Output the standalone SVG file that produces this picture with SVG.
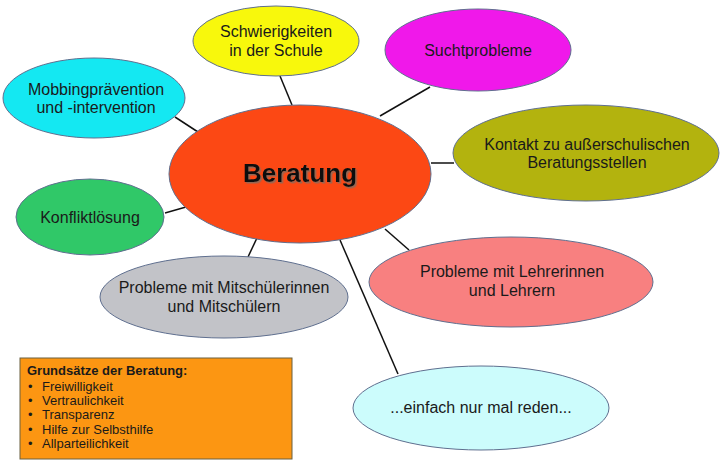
<svg xmlns="http://www.w3.org/2000/svg" width="723" height="466" viewBox="0 0 723 466">
<defs>
<filter id="sh" x="-10%" y="-20%" width="120%" height="150%"><feDropShadow dx="1.5" dy="1.5" stdDeviation="0.6" flood-color="#8a6a5a" flood-opacity="0.9"/></filter>
</defs>
<style>
.n{stroke:#5f6f8f;stroke-width:1}
.t{font-family:"Liberation Sans",Arial,sans-serif;font-size:16px;fill:#1a1a1a;text-anchor:middle}
.c line{stroke:#111;stroke-width:1.5}
.b{font-family:"Liberation Sans",Arial,sans-serif;font-size:13px;fill:#1a1a1a}
</style>
<rect width="723" height="466" fill="#fff"/>
<g class="c" id="connectors">
<line x1="280" y1="76" x2="292" y2="105"/>
<line x1="175" y1="117" x2="198" y2="132"/>
<line x1="430" y1="87" x2="380" y2="116"/>
<line x1="431" y1="163" x2="454" y2="163"/>
<line x1="165" y1="213" x2="186" y2="207"/>
<line x1="257" y1="238" x2="248" y2="257"/>
<line x1="385" y1="229" x2="409" y2="250"/>
<line x1="340" y1="240" x2="398" y2="374"/>
</g>
<g id="schule"><ellipse class="n" cx="276" cy="41" rx="83" ry="35" fill="#f8f80c"/><text class="t" x="276" y="37">Schwierigkeiten</text><text class="t" x="276" y="56">in der Schule</text></g>
<g id="mobbing"><ellipse class="n" cx="94" cy="98" rx="91" ry="40" fill="#14e8f2"/><text class="t" x="96" y="95">Mobbingprävention</text><text class="t" x="96" y="113">und -intervention</text></g>
<g id="sucht"><ellipse class="n" cx="478" cy="50" rx="93" ry="41" fill="#f018ea"/><text class="t" x="478" y="56">Suchtprobleme</text></g>
<g id="kontakt"><ellipse class="n" cx="586" cy="153" rx="133" ry="48" fill="#b3b30e"/><text class="t" x="587" y="150">Kontakt zu außerschulischen</text><text class="t" x="587" y="168">Beratungsstellen</text></g>
<g id="konflikt"><ellipse class="n" cx="90" cy="217" rx="74" ry="38" fill="#30c868"/><text class="t" x="90" y="223">Konfliktlösung</text></g>
<g id="mitschueler"><ellipse class="n" cx="224" cy="297" rx="124" ry="41" fill="#c2c3c8"/><text class="t" x="224" y="293">Probleme mit Mitschülerinnen</text><text class="t" x="224" y="312">und Mitschülern</text></g>
<g id="lehrer"><ellipse class="n" cx="511" cy="282" rx="142" ry="45" fill="#f88080"/><text class="t" x="512" y="277">Probleme mit Lehrerinnen</text><text class="t" x="512" y="296">und Lehrern</text></g>
<g id="reden"><ellipse class="n" cx="481" cy="408" rx="128" ry="42" fill="#ccfcfc"/><text class="t" x="481" y="413">...einfach nur mal reden...</text></g>
<g id="beratung"><ellipse class="n" cx="300" cy="174" rx="131" ry="69" fill="#fc4814"/>
<text x="300" y="182" filter="url(#sh)" style="font-family:'Liberation Sans',Arial,sans-serif;font-size:26px;font-weight:bold;fill:#111;text-anchor:middle">Beratung</text></g>
<g id="grundsaetze"><rect x="20" y="358" width="272" height="101" fill="#fc9612" stroke="#6a6040" stroke-width="1"/>
<text class="b" x="27" y="375" font-weight="bold">Grundsätze der Beratung:</text>
<text class="b"><tspan x="28" y="390.5">•</tspan><tspan x="42" y="390.5">Freiwilligkeit</tspan><tspan x="28" y="405">•</tspan><tspan x="42" y="405">Vertraulichkeit</tspan><tspan x="28" y="419">•</tspan><tspan x="42" y="419">Transparenz</tspan><tspan x="28" y="433.5">•</tspan><tspan x="42" y="433.5">Hilfe zur Selbsthilfe</tspan><tspan x="28" y="448">•</tspan><tspan x="42" y="448">Allparteilichkeit</tspan></text></g>
</svg>
